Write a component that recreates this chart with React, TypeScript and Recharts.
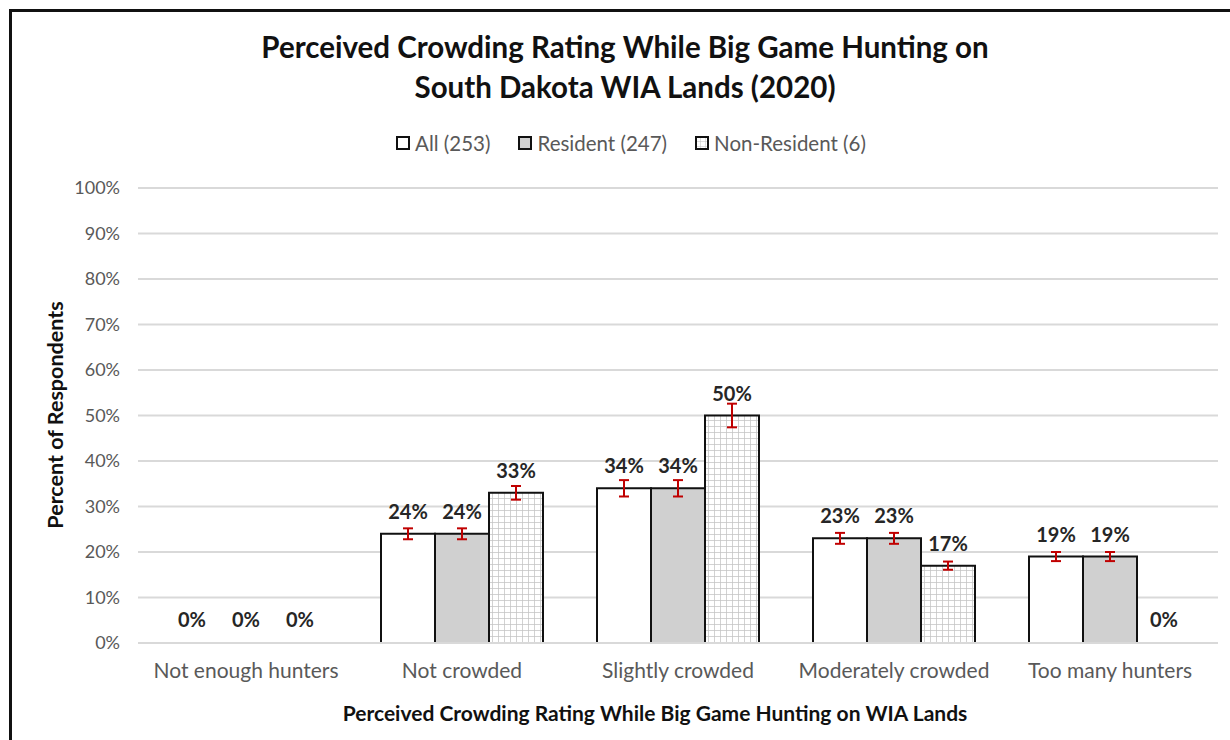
import { BarChart, Bar, XAxis, YAxis, CartesianGrid, ErrorBar, LabelList, Cell } from 'recharts';

const categories = ['Not enough hunters', 'Not crowded', 'Slightly crowded', 'Moderately crowded', 'Too many hunters'];
const allPct = [0, 24, 34, 23, 19];
const residentPct = [0, 24, 34, 23, 19];
const nonResidentPct = [0, 33, 50, 17, 0];
const allErr = [null, 1.2, 1.8, 1.2, 1.0];
const residentErr = [null, 1.2, 1.8, 1.2, 1.0];
const nonResidentErr = [null, 1.5, 2.6, 0.9, null];
const yTicks = [0, 10, 20, 30, 40, 50, 60, 70, 80, 90, 100];

const legendItems = [
  { label: 'All (253)', fill: '#ffffff' },
  { label: 'Resident (247)', fill: '#d0d0d0' },
  { label: 'Non-Resident (6)', fill: 'pattern' },
];

const data = categories.map((c, i) => ({
  cat: c,
  all: allPct[i],
  resident: residentPct[i],
  nonResident: nonResidentPct[i],
  allErr: allErr[i],
  residentErr: residentErr[i],
  nonResidentErr: nonResidentErr[i],
}));

const FONT = 'Lato, "Open Sans", sans-serif';
const GRAY = '#595959';

function ValueLabel(props: any) {
  const { x, y, width, height, value } = props;
  const top = Math.min(y, y + height);
  return (
    <text
      x={x + width / 2}
      y={top - 15}
      textAnchor="middle"
      fontFamily={FONT}
      fontSize={20}
      fontWeight={700}
      fill="#262626"
    >
      {`${value}%`}
    </text>
  );
}

function LegendIcon({ fill }: { fill: string }) {
  return (
    <svg width={14} height={14} style={{ marginRight: 5 }}>
      <defs>
        <pattern id="legGrid" width={5} height={5} patternUnits="userSpaceOnUse">
          <rect width={5} height={5} fill="#fff" />
          <path d="M0 0H5M0 0V5" stroke="#c0c0c0" strokeWidth={1} />
        </pattern>
      </defs>
      <rect
        x={1}
        y={1}
        width={12}
        height={12}
        fill={fill === 'pattern' ? 'url(#legGrid)' : fill}
        stroke="#111"
        strokeWidth={2}
      />
    </svg>
  );
}

// zero bars get a 1px placeholder so their labels still render; hide the placeholder
function cells(key: 'all' | 'resident' | 'nonResident', fill: string) {
  return data.map((d, i) => (
    <Cell
      key={i}
      fill={d[key] === 0 ? 'none' : fill}
      stroke={d[key] === 0 ? 'none' : '#111'}
    />
  ));
}

export default function App() {
  return (
    <div
      style={{
        position: 'absolute',
        left: 9,
        top: 9,
        width: 1221,
        height: 731,
        boxSizing: 'border-box',
        borderTop: '3px solid #111',
        borderLeft: '3px solid #111',
        background: '#fff',
        fontFamily: FONT,
        overflow: 'hidden',
      }}
    >
      <div
        style={{
          position: 'absolute',
          top: 15,
          left: 0,
          width: 1226,
          textAlign: 'center',
          fontSize: 29.5,
          fontWeight: 700,
          lineHeight: '40px',
          color: '#111',
        }}
      >
        Perceived Crowding Rating While Big Game Hunting on
        <br />
        South Dakota WIA Lands (2020)
      </div>

      <div
        style={{
          position: 'absolute',
          top: 117,
          left: 0,
          width: 1238,
          display: 'flex',
          justifyContent: 'center',
          gap: 28,
          fontSize: 20.5,
          lineHeight: '28px',
          color: GRAY,
        }}
      >
        {legendItems.map(it => (
          <div key={it.label} style={{ display: 'flex', alignItems: 'center' }}>
            <LegendIcon fill={it.fill} />
            <span>{it.label}</span>
          </div>
        ))}
      </div>

      <div
        style={{
          position: 'absolute',
          left: 43,
          top: 403,
          transform: 'translate(-50%, -50%) rotate(-90deg)',
          whiteSpace: 'nowrap',
          fontSize: 21.5,
          fontWeight: 700,
          color: '#111',
        }}
      >
        Percent of Respondents
      </div>

      <div
        style={{
          position: 'absolute',
          left: 643,
          top: 700,
          transform: 'translate(-50%, -50%)',
          whiteSpace: 'nowrap',
          fontSize: 21,
          fontWeight: 700,
          color: '#111',
        }}
      >
        Perceived Crowding Rating While Big Game Hunting on WIA Lands
      </div>

      <BarChart
        width={1218}
        height={728}
        data={data}
        margin={{ top: 176, right: 12, left: 66, bottom: 67 }}
        barCategoryGap="12.5%"
        barGap={0}
      >
        <defs>
          <pattern id="gridFill" width={6} height={6} patternUnits="userSpaceOnUse">
            <rect width={6} height={6} fill="#fff" />
            <path d="M0 0H6M0 0V6" stroke="#c4c4c4" strokeWidth={1.5} />
          </pattern>
        </defs>
        <CartesianGrid vertical={false} stroke="#d9d9d9" strokeWidth={2} />
        <XAxis
          dataKey="cat"
          axisLine={{ stroke: '#d9d9d9', strokeWidth: 2 }}
          tickLine={false}
          tick={{ fontSize: 21, fill: GRAY, fontFamily: FONT }}
          tickMargin={14}
          interval={0}
          height={30}
        />
        <YAxis
          domain={[0, 100]}
          ticks={yTicks}
          tickFormatter={v => `${v}%`}
          axisLine={false}
          tickLine={false}
          tick={{ fontSize: 18, fill: GRAY, fontFamily: FONT }}
          width={60}
          tickMargin={12}
        />
        <Bar dataKey="all" fill="#ffffff" stroke="#111" strokeWidth={2} minPointSize={1} isAnimationActive={false}>
          {cells('all', '#ffffff')}
          <ErrorBar dataKey="allErr" stroke="#c00000" strokeWidth={2} width={5} direction="y" />
          <LabelList dataKey="all" content={ValueLabel} />
        </Bar>
        <Bar dataKey="resident" fill="#d0d0d0" stroke="#111" strokeWidth={2} minPointSize={1} isAnimationActive={false}>
          {cells('resident', '#d0d0d0')}
          <ErrorBar dataKey="residentErr" stroke="#c00000" strokeWidth={2} width={5} direction="y" />
          <LabelList dataKey="resident" content={ValueLabel} />
        </Bar>
        <Bar dataKey="nonResident" fill="url(#gridFill)" stroke="#111" strokeWidth={2} minPointSize={1} isAnimationActive={false}>
          {cells('nonResident', 'url(#gridFill)')}
          <ErrorBar dataKey="nonResidentErr" stroke="#c00000" strokeWidth={2} width={5} direction="y" />
          <LabelList dataKey="nonResident" content={ValueLabel} />
        </Bar>
      </BarChart>
    </div>
  );
}
